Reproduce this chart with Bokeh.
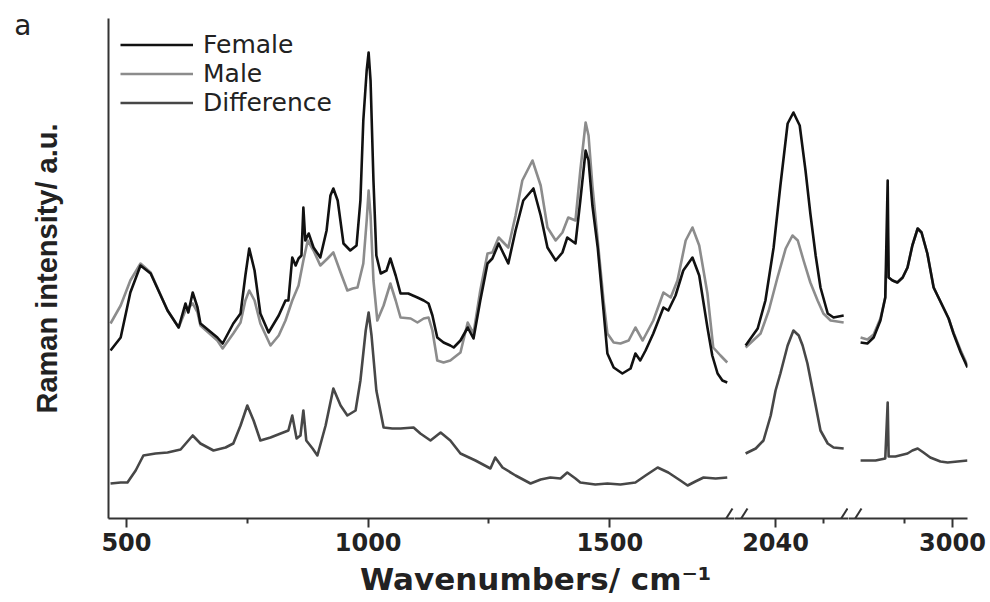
from bokeh.plotting import figure
from bokeh.models import Range1d, FixedTicker, Legend, LegendItem, Arrow, Title, LinearAxis
from bokeh.layouts import row
from bokeh.embed import file_html
from bokeh.resources import INLINE

# ---------------- data (intensity in a.u.) ----------------
# Segment 1: fingerprint region
female_x1 = [467, 488, 508, 529, 550, 585, 608, 622, 628, 637, 647, 653, 688, 699, 721, 736, 746, 754, 765, 777,
             794, 815, 829, 835, 843, 850, 856, 862, 866, 870, 877, 887, 901, 914, 922, 928, 937, 949, 963, 976,
             984, 990, 997, 1001, 1005, 1011, 1017, 1026, 1038, 1046, 1057, 1067, 1083, 1102, 1115, 1125, 1133,
             1143, 1156, 1170, 1177, 1191, 1206, 1218, 1232, 1247, 1257, 1270, 1290, 1305, 1321, 1342, 1357, 1371,
             1388, 1402, 1412, 1429, 1439, 1450, 1456, 1464, 1475, 1487, 1495, 1508, 1526, 1543, 1553, 1563, 1574,
             1590, 1611, 1621, 1636, 1652, 1671, 1685, 1702, 1712, 1723, 1733, 1743]
female_y1 = [168, 181, 226, 253, 245, 208, 191, 215, 206, 226, 211, 195, 181, 175, 195, 205, 243, 270, 248, 205,
             186, 203, 218, 218, 261, 253, 260, 263, 311, 278, 285, 271, 261, 288, 323, 330, 318, 275, 268, 273,
             318, 398, 448, 466, 438, 338, 263, 245, 248, 260, 243, 225, 225, 221, 218, 215, 203,
             181, 176, 173, 171, 178, 191, 180, 218, 255, 260, 275, 255, 288, 318, 330, 303, 271,
             258, 266, 281, 275, 318, 368, 358, 313, 271, 208, 165, 151, 145, 150, 165, 158, 168,
             185, 211, 208, 223, 248, 261, 243, 191, 163, 145, 138, 136]

male_x1 = [467, 488, 508, 529, 550, 585, 608, 622, 637, 647, 653, 688, 699, 721, 736, 746, 754, 765, 777, 798,
           815, 829, 843, 856, 866, 875, 887, 901, 916, 928, 943, 957, 968, 978, 990, 997, 1001, 1005, 1011,
           1019, 1032, 1046, 1057, 1067, 1088, 1102, 1115, 1125, 1133, 1143, 1156, 1170, 1191, 1206, 1218,
           1232, 1247, 1257, 1270, 1290, 1305, 1319, 1340, 1357, 1371, 1388, 1402, 1414, 1429, 1439, 1450,
           1456, 1464, 1475, 1487, 1495, 1508, 1522, 1539, 1553, 1568, 1590, 1611, 1626, 1640, 1657, 1671,
           1685, 1702, 1714, 1729, 1743]
male_y1 = [195, 213, 238, 255, 246, 208, 191, 208, 215, 206, 193, 178, 170, 185, 196, 218, 228, 218, 195, 173,
           183, 198, 218, 233, 258, 278, 268, 253, 260, 266, 246, 228, 230, 231, 255, 298, 328, 303, 238,
           198, 213, 235, 218, 201, 200, 196, 200, 201, 188, 158, 156, 158, 166, 196, 185,
           228, 265, 266, 281, 271, 303, 338, 358, 333, 291, 278, 286, 301, 298, 348, 396,
           383, 333, 278, 218, 185, 176, 175, 178, 191, 178, 198, 226, 221, 238, 278, 291,
           273, 225, 171, 163, 156]

diff_x1 = [467, 488, 502, 519, 535, 560, 585, 612, 637, 653, 680, 705, 721, 736, 750, 763, 777, 798, 819, 835,
           843, 852, 860, 866, 872, 885, 895, 912, 928, 943, 957, 974, 984, 995, 1001, 1007, 1017, 1032, 1050,
           1067, 1094, 1108, 1129, 1150, 1170, 1191, 1222, 1253, 1263, 1278, 1305, 1336, 1357, 1377, 1398,
           1412, 1429, 1439, 1470, 1495, 1522, 1553, 1574, 1599, 1621, 1646, 1661, 1677, 1694, 1719, 1743]
diff_y1 = [35, 36, 36, 48, 63, 65, 66, 69, 83, 75, 68, 71, 75, 93, 113, 98, 78, 81, 85, 88,
           103, 80, 83, 108, 78, 70, 63, 93, 130, 113, 103, 108, 138, 188, 206, 183, 128, 91, 90,
           90, 91, 85, 78, 86, 78, 65, 58, 50, 61, 51, 43, 35, 39, 41, 40,
           46, 40, 36, 34, 35, 34, 36, 43, 51, 46, 38, 33, 37, 41, 40, 41]

# Segment 2: around 2040 cm-1
female_x2 = [1978, 2003, 2019, 2036, 2050, 2065, 2077, 2090, 2102, 2112, 2123, 2133, 2148, 2160, 2181]
female_y2 = [173, 190, 218, 271, 333, 395, 406, 393, 348, 305, 263, 231, 205, 201, 203]
male_x2 = [1978, 2009, 2026, 2044, 2061, 2075, 2086, 2098, 2112, 2127, 2139, 2154, 2181]
male_y2 = [171, 185, 208, 241, 270, 283, 278, 258, 236, 218, 205, 198, 196]
diff_x2 = [1978, 1999, 2015, 2030, 2040, 2050, 2065, 2077, 2088, 2096, 2106, 2119, 2133, 2148, 2160, 2181]
diff_y2 = [65, 70, 78, 103, 128, 145, 173, 188, 183, 173, 155, 123, 88, 75, 71, 70]

# Segment 3: C-H stretching region
female_x3 = [2810, 2824, 2837, 2851, 2861, 2866, 2868, 2876, 2886, 2897, 2907, 2917, 2928, 2936, 2948, 2961,
             2971, 2981, 2992, 3002, 3017, 3031]
female_y3 = [176, 175, 181, 198, 221, 338, 241, 238, 236, 241, 251, 273, 290, 286, 265, 231,
             221, 211, 200, 185, 166, 151]
male_x3 = [2810, 2824, 2837, 2851, 2861, 2866, 2868, 2876, 2886, 2897, 2907, 2917, 2928, 2936, 2948, 2961,
           2971, 2981, 2992, 3002, 3017, 3031]
male_y3 = [181, 179, 184, 200, 221, 285, 241, 238, 236, 241, 251, 273, 290, 286, 265, 231,
           221, 211, 200, 186, 168, 153]
diff_x3 = [2810, 2841, 2861, 2866, 2868, 2882, 2907, 2917, 2928, 2940, 2954, 2975, 2990, 3031]
diff_y3 = [58, 58, 60, 116, 62, 62, 65, 68, 70, 66, 61, 57, 56, 58]

series_names = ["Female", "Male", "Difference"]
major_ticks = [[500, 1000, 1500], [2040], [3000]]
minor_ticks = [[750, 1250], [2140], [2900]]
x_title = "Wavenumbers/ cm\u207b\u00b9"
y_title = "Raman intensity/ a.u."
panel_letter = "a"

# ---------------- layout / style ----------------
H = 602
TOP, BOTTOM = 18, 84
frames = [(108, 734), (734, 848), (848, 967)]
x_ranges = [(462.8, 1758.0), (1955.0, 2191.0), (2785.0, 3031.0)]
right_pad = 23

COL_F, COL_M, COL_D = "#111111", "#8c8c8c", "#474747"
AX_COL = "#333333"
TXT_COL = "#222222"
FONT = "DejaVu Sans"

segments = [
    (female_x1, female_y1, male_x1, male_y1, diff_x1, diff_y1),
    (female_x2, female_y2, male_x2, male_y2, diff_x2, diff_y2),
    (female_x3, female_y3, male_x3, male_y3, diff_x3, diff_y3),
]

figs = []
legend_renderers = None
for i, (fx, fy, mx, my, dx, dy) in enumerate(segments):
    fl, fr = frames[i]
    left_b = fl if i == 0 else 0
    right_b = right_pad if i == 2 else 0
    width = (fr - fl) + left_b + right_b
    p = figure(width=width, height=H, output_backend="svg", toolbar_location=None,
               x_range=Range1d(*x_ranges[i]), y_range=Range1d(0, 500),
               min_border_left=left_b, min_border_right=right_b,
               min_border_top=TOP, min_border_bottom=BOTTOM,
               y_axis_location="left" if i == 0 else None)
    p.outline_line_color = None
    p.background_fill_color = "white"
    p.border_fill_color = "white"
    p.grid.visible = False

    rm = p.line(mx, my, line_color=COL_M, line_width=2.6, line_join="round")
    rf = p.line(fx, fy, line_color=COL_F, line_width=2.6, line_join="round")
    rd = p.line(dx, dy, line_color=COL_D, line_width=2.6, line_join="round")
    if i == 0:
        legend_renderers = (rf, rm, rd)

    xa = p.xaxis[0]
    xa.ticker = FixedTicker(ticks=major_ticks[i], minor_ticks=minor_ticks[i])
    xa.axis_line_color = AX_COL
    xa.axis_line_width = 2
    xa.major_tick_line_color = AX_COL
    xa.major_tick_line_width = 2
    xa.major_tick_out = 9
    xa.major_tick_in = 0
    xa.minor_tick_line_color = AX_COL
    xa.minor_tick_line_width = 2
    xa.minor_tick_out = 5
    xa.minor_tick_in = 0
    xa.major_label_text_font = FONT
    xa.major_label_text_font_style = "bold"
    xa.major_label_text_font_size = "24px"
    xa.major_label_text_color = TXT_COL
    xa.major_label_standoff = 5

    # axis-break marks ("//") at the segment joins
    x0, x1 = x_ranges[i]
    pxs = (x1 - x0) / (fr - fl)  # data units per pixel
    if i == 0:
        marks = [x1 - 14 * pxs]
    elif i == 1:
        marks = [x0 + 1 * pxs, x1 - 13 * pxs]
    else:
        marks = [x0 + 1 * pxs]
    for m in marks:
        p.add_layout(Arrow(end=None, x_start=m, y_start=-9, x_end=m + 12 * pxs, y_end=10,
                           line_color=AX_COL, line_width=2))

    figs.append(p)

p1 = figs[0]
ya = p1.yaxis[0]
ya.ticker = FixedTicker(ticks=[])
ya.axis_line_color = AX_COL
ya.axis_line_width = 2
ya.major_tick_line_color = None
ya.minor_tick_line_color = None
ya.axis_label = y_title
ya.axis_label_text_font = "Liberation Sans"
ya.axis_label_text_font_style = "bold"
ya.axis_label_text_font_size = "29px"
ya.axis_label_text_color = TXT_COL
ya.axis_label_standoff = 46

# panel letter "a" in the top-left corner (outer left axis carrying one label)
letter_axis = LinearAxis(ticker=FixedTicker(ticks=[493]), major_label_overrides={493: panel_letter},
                         axis_line_color=None, major_tick_line_color=None, minor_tick_line_color=None,
                         major_label_standoff=-10, major_label_text_font=FONT,
                         major_label_text_font_size="28px", major_label_text_color=TXT_COL)
p1.add_layout(letter_axis, "left")

legend = Legend(items=[LegendItem(label=n, renderers=[r]) for n, r in zip(series_names, legend_renderers)],
                location="top_left", margin=12, padding=0, spacing=0,
                glyph_width=73, glyph_height=27, label_height=27, label_standoff=10,
                label_text_font=FONT, label_text_font_size="25px", label_text_color=TXT_COL,
                background_fill_alpha=0, border_line_alpha=0)
p1.add_layout(legend)

# x-axis title centred on the whole broken axis (shifted from the first panel's left edge)
whole_center = (frames[0][0] + frames[2][1]) / 2.0
title_half_width = 178
p1.add_layout(Title(text=x_title, align="left", offset=whole_center - title_half_width - frames[0][0],
                    text_font=FONT, text_font_style="bold", text_font_size="31px",
                    text_color=TXT_COL, standoff=10), "below")

layout = row(*figs, spacing=0)
open("out.html", "w").write(file_html(layout, INLINE))
